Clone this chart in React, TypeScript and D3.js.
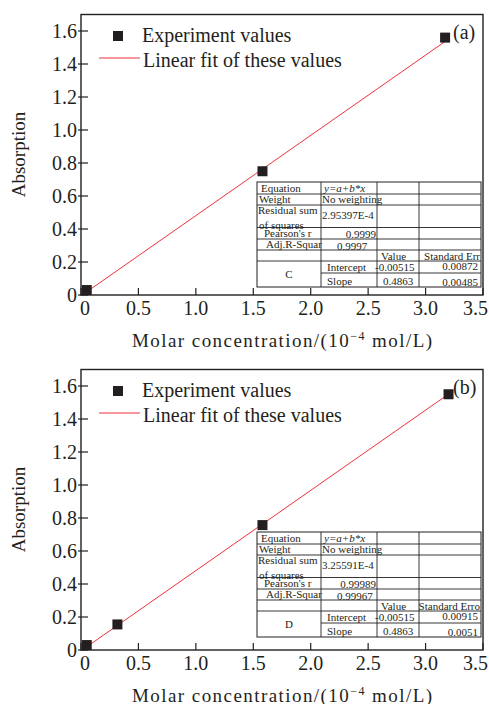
import { useEffect, useRef } from 'react';
import * as d3 from 'd3';

// axis ticks
const xTicks = [0, 0.5, 1.0, 1.5, 2.0, 2.5, 3.0, 3.5];
const yTicks = [0, 0.2, 0.4, 0.6, 0.8, 1.0, 1.2, 1.4, 1.6];

// panel (a) measurements
const concA = [0.05, 1.58, 3.17];
const absA = [0.03, 0.75, 1.56];
// panel (b) measurements
const concB = [0.05, 0.317, 1.58, 3.2];
const absB = [0.03, 0.155, 0.757, 1.55];

// linear fit y = a + b*x
const fitIntercept = -0.00515;
const fitSlope = 0.4863;

// fit report tables
const tableA = ['2.95397E-4', '0.9999', '0.9997', 'Standard Err', 'C', '-0.00515', '0.00872', '0.4863', '0.00485'];
const tableB = ['3.25591E-4', '0.99989', '0.99967', 'Standard Erro', 'D', '-0.00515', '0.00915', '0.4863', '0.0051'];

const W = 489;
const H = 704;
const FONT = 'Liberation Serif, Times New Roman, serif';
const INK = '#231f20';

const App = () => {
  const svgRef = useRef(null);

  useEffect(() => {
    const svg = d3.select(svgRef.current);
    svg.selectAll('*').remove();

    const panels = [
      { top: 14, bottom: 295, tag: '(a)', x: concA, y: absA, table: tableA, tableTop: 182 },
      { top: 369, bottom: 650, tag: '(b)', x: concB, y: absB, table: tableB, tableTop: 532 },
    ];

    panels.forEach((p) => {
      const g = svg.append('g').attr('font-family', FONT).attr('fill', INK);
      const x = d3.scaleLinear().domain([0, 3.5]).range([81, 483]);
      const y = d3.scaleLinear().domain([0, 1.7]).range([p.bottom, p.bottom - 1.7 * 165]);

      // fit line
      const xs = [0.02, p.x[p.x.length - 1]];
      const line = d3
        .line()
        .x((d) => x(d[0]))
        .y((d) => y(d[1]));
      g.append('path')
        .attr('d', line(xs.map((v) => [v, fitIntercept + fitSlope * v])))
        .attr('fill', 'none')
        .attr('stroke', '#f0313c')
        .attr('stroke-width', 1);

      // squares
      g.selectAll('rect.pt')
        .data(p.x.map((v, i) => [v, p.y[i]]))
        .join('rect')
        .attr('class', 'pt')
        .attr('x', (d) => x(d[0]) - 5)
        .attr('y', (d) => y(d[1]) - 5)
        .attr('width', 10)
        .attr('height', 10)
        .attr('fill', INK);

      // frame
      g.append('rect')
        .attr('x', x(0))
        .attr('y', y(1.7))
        .attr('width', x(3.5) - x(0))
        .attr('height', y(0) - y(1.7))
        .attr('fill', 'none')
        .attr('stroke', INK)
        .attr('stroke-width', 1.4);

      // x ticks (inward)
      g.selectAll('line.xt')
        .data(xTicks)
        .join('line')
        .attr('x1', (d) => x(d))
        .attr('x2', (d) => x(d))
        .attr('y1', y(0))
        .attr('y2', y(0) - 7)
        .attr('stroke', INK)
        .attr('stroke-width', 1.2);
      g.selectAll('text.xl')
        .data(xTicks)
        .join('text')
        .attr('x', (d, i) => (i === 0 ? x(d) + 4 : i === xTicks.length - 1 ? 488 : x(d)))
        .attr('y', y(0) + 20)
        .attr('text-anchor', (d, i) => (i === xTicks.length - 1 ? 'end' : 'middle'))
        .attr('font-size', 20)
        .text((d) => (d === 0 ? '0' : d3.format('.1f')(d)));

      // y ticks (crossing)
      g.selectAll('line.yt')
        .data(yTicks)
        .join('line')
        .attr('x1', x(0) - 3)
        .attr('x2', x(0) + 7)
        .attr('y1', (d) => y(d))
        .attr('y2', (d) => y(d))
        .attr('stroke', INK)
        .attr('stroke-width', 1.2);
      g.selectAll('text.yl')
        .data(yTicks)
        .join('text')
        .attr('x', 77)
        .attr('y', (d) => y(d) + 7)
        .attr('text-anchor', 'end')
        .attr('font-size', 20)
        .text((d) => (d === 0 ? '0' : d3.format('.1f')(d)));

      // axis titles
      g.append('text')
        .attr('transform', `translate(25,${(p.top + p.bottom) / 2}) rotate(-90)`)
        .attr('text-anchor', 'middle')
        .attr('font-size', 19)
        .text('Absorption');
      const xt = g
        .append('text')
        .attr('x', 132)
        .attr('y', p.bottom + 52)
        .attr('textLength', 300)
        .attr('lengthAdjust', 'spacing')
        .attr('font-size', 19);
      xt.append('tspan').text('Molar  concentration/(10');
      xt.append('tspan').attr('dy', -7).attr('font-size', 12).text('−4');
      xt.append('tspan').attr('dy', 7).text('  mol/L)');

      // legend
      g.append('rect')
        .attr('x', 113)
        .attr('y', p.top + 17)
        .attr('width', 10)
        .attr('height', 10)
        .attr('fill', INK);
      g.append('text')
        .attr('x', 142)
        .attr('y', p.top + 28)
        .attr('font-size', 20)
        .text('Experiment values');
      g.append('line')
        .attr('x1', 99)
        .attr('x2', 140)
        .attr('y1', p.top + 44)
        .attr('y2', p.top + 44)
        .attr('stroke', '#f0313c')
        .attr('stroke-width', 1);
      g.append('text')
        .attr('x', 143)
        .attr('y', p.top + 53)
        .attr('font-size', 20)
        .text('Linear fit of these values');

      g.append('text')
        .attr('x', 453)
        .attr('y', p.top + 25)
        .attr('font-size', 20)
        .text(p.tag);

      // fit table
      const cols = [257, 321, 377, 419, 481];
      const rowOff = [0, 12, 23, 45.5, 57, 68, 79, 91, 105];
      const rows = rowOff.map((r) => p.tableTop + r);
      const tg = g.append('g');
      tg.append('rect')
        .attr('x', cols[0])
        .attr('y', rows[0])
        .attr('width', cols[4] - cols[0])
        .attr('height', rows[8] - rows[0])
        .attr('fill', '#fff')
        .attr('stroke', INK)
        .attr('stroke-width', 1);
      cols.slice(1, 4).forEach((c) => {
        tg.append('line')
          .attr('x1', c).attr('x2', c)
          .attr('y1', rows[0]).attr('y2', rows[8])
          .attr('stroke', INK).attr('stroke-width', 0.9);
      });
      rows.slice(1, 7).forEach((r) => {
        tg.append('line')
          .attr('x1', cols[0]).attr('x2', cols[4])
          .attr('y1', r).attr('y2', r)
          .attr('stroke', INK).attr('stroke-width', 0.9);
      });
      tg.append('line')
        .attr('x1', cols[1]).attr('x2', cols[4])
        .attr('y1', rows[7]).attr('y2', rows[7])
        .attr('stroke', INK).attr('stroke-width', 0.9);

      const cell = (tx, ty, s, anchor = 'start', italic = false) =>
        tg.append('text')
          .attr('x', tx)
          .attr('y', ty)
          .attr('text-anchor', anchor)
          .attr('font-size', 11)
          .attr('font-style', italic ? 'italic' : 'normal')
          .text(s);
      const v = p.table;
      cell(cols[0] + 4, rows[1] - 2, 'Equation');
      cell(cols[1] + 3, rows[1] - 2, 'y=a+b*x', 'start', true);
      cell(cols[0] + 2, rows[2] - 2, 'Weight');
      cell(cols[1] + 1, rows[2] - 2, 'No weighting');
      cell(cols[0] + 1, rows[2] + 9, 'Residual sum');
      cell(cols[0] + 2, rows[3] + 1, 'of  squares');
      cell(cols[1] + 1, rows[2] + 14, v[0]);
      cell(cols[0] + 7, rows[4] - 2, "Pearson's r");
      cell(cols[2] - 1, rows[4] - 1, v[1], 'end');
      cell(cols[0] + 9, rows[5] - 2, 'Adj.R-Squar');
      cell(cols[1] + 16, rows[5] + 0, v[2]);
      cell(cols[2] + 4, rows[6] - 1, 'Value');
      cell(cols[4] - 1, rows[6] - 1, v[3], 'end');
      cell((cols[0] + cols[1]) / 2, rows[7] + 5, v[4], 'middle');
      cell(cols[1] + 6, rows[7] - 2, 'Intercept');
      cell(cols[2] - 2, rows[7] - 2, v[5]);
      cell(cols[4] - 3, rows[7] - 3, v[6], 'end');
      cell(cols[1] + 6, rows[8] - 2, 'Slope');
      cell(cols[2] + 6, rows[8] - 2, v[7]);
      cell(cols[4] - 3, rows[8] - 1, v[8], 'end');
    });
  }, []);

  return (
    <svg
      ref={svgRef}
      width={W}
      height={H}
      style={{ position: 'absolute', left: 0, top: 0, background: '#fff' }}
    ></svg>
  );
};

export default App;
